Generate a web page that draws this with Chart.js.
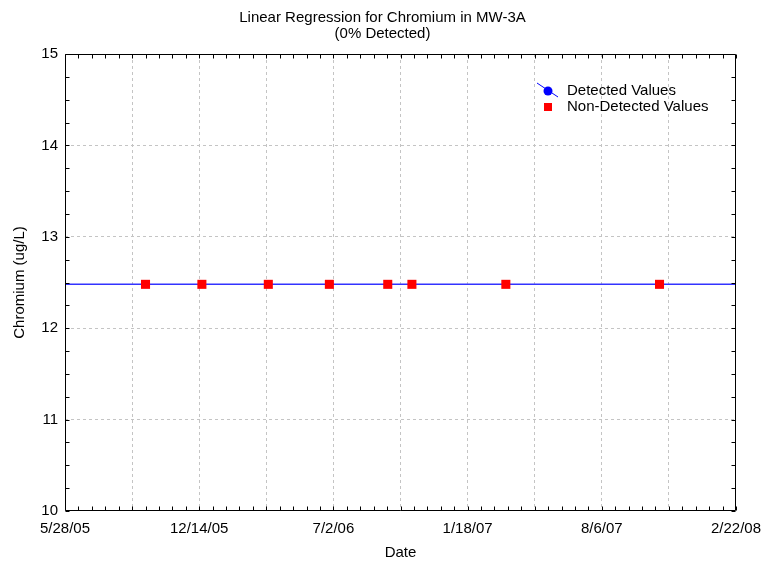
<!DOCTYPE html>
<html>
<head>
<meta charset="utf-8">
<script src="https://cdn.jsdelivr.net/npm/chart.js@4"></script>
<style>
  html, body { margin: 0; padding: 0; background: #fff; }
  #wrap { width: 769px; height: 563px; }
</style>
</head>
<body>
<div id="wrap"><canvas id="c" width="769" height="563"></canvas></div>
<script>
// ---- data ----
const startDate = '2005-05-28';
const endDate = '2008-02-22';
const nonDetectDates = ['2005-09-25','2005-12-18','2006-03-27','2006-06-26','2006-09-21','2006-10-27','2007-03-16','2007-10-31'];
const nonDetectValues = [12.48, 12.48, 12.48, 12.48, 12.48, 12.48, 12.48, 12.48];
const detectDates = [];
const detectValues = [];
const regressionDates = ['2005-05-28','2008-02-22'];
const regressionValues = [12.48, 12.48];
const yMin = 10, yMax = 15;
const titleLines = ['Linear Regression for Chromium in MW-3A', '(0% Detected)'];
const legendLabels = ['Detected Values', 'Non-Detected Values'];

const DAY = 864e5;
const base = Date.parse(startDate + 'T00:00:00Z');
const toDay = s => Math.round((Date.parse(s + 'T00:00:00Z') - base) / DAY);
const xMax = toDay(endDate);
const fmtDate = v => {
  const d = new Date(base + v * DAY);
  return (d.getUTCMonth() + 1) + '/' + d.getUTCDate() + '/' + String(d.getUTCFullYear()).slice(2);
};

const FONT = 'Liberation Sans, Arial, sans-serif';

const boxPlugin = {
  id: 'boxTicks',
  afterDraw(chart) {
    const {ctx, chartArea: a, scales: {x, y}} = chart;
    ctx.save();
    // title centred on the page
    ctx.fillStyle = '#000';
    ctx.font = '15px ' + FONT;
    ctx.textAlign = 'center';
    ctx.textBaseline = 'middle';
    ctx.fillText(titleLines[0], chart.width / 2 - 2, 18);
    ctx.fillText(titleLines[1], chart.width / 2 - 2, 34);

    ctx.strokeStyle = '#000';
    ctx.lineWidth = 1;
    const L = Math.round(a.left) + 0.5, R = Math.round(a.right) - 0.5;
    const T = Math.round(a.top) + 0.5, B = Math.round(a.bottom) - 0.5;
    ctx.beginPath();
    ctx.rect(L, T, R - L, B - T);
    x.ticks.forEach(t => {
      const px = Math.round(x.getPixelForValue(t.value)) + 0.5;
      ctx.moveTo(px, B); ctx.lineTo(px, B - 4);
      ctx.moveTo(px, T); ctx.lineTo(px, T + 4);
    });
    y.ticks.forEach(t => {
      const py = Math.round(y.getPixelForValue(t.value)) + 0.5;
      ctx.moveTo(L, py); ctx.lineTo(L + 4, py);
      ctx.moveTo(R, py); ctx.lineTo(R - 4, py);
    });
    ctx.stroke();

    // legend (inside plot, upper right)
    const lx = a.left + 483, ly1 = a.top + 37, ly2 = a.top + 53;
    ctx.strokeStyle = '#0000ff';
    ctx.lineWidth = 1;
    ctx.beginPath();
    ctx.moveTo(lx - 11, ly1 - 8); ctx.lineTo(lx + 10, ly1 + 6);
    ctx.stroke();
    ctx.fillStyle = '#0000ff';
    ctx.beginPath(); ctx.arc(lx, ly1, 4.5, 0, Math.PI * 2); ctx.fill();
    ctx.fillStyle = '#ff0000';
    ctx.fillRect(lx - 4, ly2 - 4, 8, 8);
    ctx.fillStyle = '#000';
    ctx.font = '15px ' + FONT;
    ctx.textBaseline = 'middle';
    ctx.textAlign = 'left';
    ctx.fillText(legendLabels[0], lx + 19, ly1);
    ctx.fillText(legendLabels[1], lx + 19, ly2);
    ctx.restore();
  }
};

const gridColorX = ctx => (ctx.tick && ctx.tick.value % 100 === 0 && ctx.tick.value > 0 && ctx.tick.value < xMax) ? '#c4c4c4' : 'rgba(0,0,0,0)';
const gridColorY = ctx => (ctx.tick && ctx.tick.value % 1 === 0 && ctx.tick.value > yMin && ctx.tick.value < yMax) ? '#c4c4c4' : 'rgba(0,0,0,0)';

new Chart(document.getElementById('c'), {
  type: 'scatter',
  data: {
    datasets: [
      {
        label: legendLabels[1],
        data: nonDetectDates.map((d, i) => ({x: toDay(d), y: nonDetectValues[i]})),
        pointStyle: 'rect',
        pointRadius: 6.4,
        pointBorderWidth: 0,
        backgroundColor: '#ff0000',
        borderColor: '#ff0000',
        showLine: false
      },
      {
        label: legendLabels[0],
        data: detectDates.map((d, i) => ({x: toDay(d), y: detectValues[i]})),
        pointStyle: 'circle',
        pointRadius: 4.5,
        backgroundColor: '#0000ff',
        showLine: false
      },
      {
        label: 'Regression',
        data: regressionDates.map((d, i) => ({x: toDay(d), y: regressionValues[i]})),
        showLine: true,
        borderColor: '#3333ff',
        borderWidth: 1.5,
        pointRadius: 0,
        fill: false
      }
    ]
  },
  options: {
    responsive: false,
    animation: false,
    events: [],
    layout: { padding: { left: 0, right: 33, top: 54, bottom: 0 } },
    plugins: {
      legend: { display: false },
      tooltip: { enabled: false },
      title: { display: false }
    },
    scales: {
      x: {
        type: 'linear',
        min: 0,
        max: xMax,
        afterFit: s => { s.height = 52; s.paddingLeft = 0; s.paddingRight = 0; },
        ticks: {
          stepSize: 20,
          autoSkip: false,
          maxRotation: 0,
          padding: 9,
          color: '#000',
          font: { family: FONT, size: 15 },
          callback: v => (v % 200 === 0) ? fmtDate(v) : ''
        },
        grid: { color: gridColorX, lineWidth: 1, drawTicks: false },
        border: { display: false, dash: [3, 3] },
        title: {
          display: true,
          text: 'Date',
          color: '#000',
          font: { family: FONT, size: 15, lineHeight: '18px' },
          padding: { top: 0, bottom: 1 }
        }
      },
      y: {
        type: 'linear',
        min: yMin,
        max: yMax,
        afterFit: s => { s.width = 65; s.paddingTop = 0; s.paddingBottom = 0; },
        ticks: {
          stepSize: 0.25,
          autoSkip: false,
          padding: 7,
          color: '#000',
          font: { family: FONT, size: 15 },
          callback: v => (v % 1 === 0) ? String(v) : ''
        },
        grid: { color: gridColorY, lineWidth: 1, drawTicks: false },
        border: { display: false, dash: [3, 3] },
        title: {
          display: true,
          text: 'Chromium (ug/L)',
          color: '#000',
          font: { family: FONT, size: 15, lineHeight: '18px' },
          padding: { top: 11, bottom: 0 }
        }
      }
    }
  },
  plugins: [boxPlugin]
});
</script>
</body>
</html>
